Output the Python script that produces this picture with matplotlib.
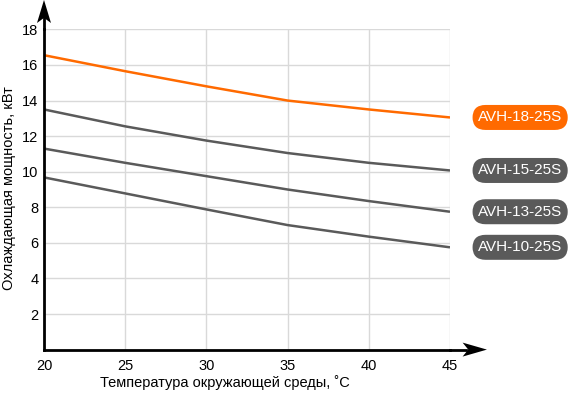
import matplotlib
matplotlib.use("Agg")
import matplotlib.pyplot as plt
from matplotlib.patches import Polygon

plt.rcParams['font.family'] = ['Liberation Sans', 'DejaVu Sans']

# ambient temperature, C
temps = [20, 25, 30, 35, 40, 45]

# cooling capacity, kW
avh_18 = [16.55, 15.65, 14.8, 14.0, 13.5, 13.05]
avh_15 = [13.5, 12.55, 11.75, 11.05, 10.5, 10.07]
avh_13 = [11.3, 10.5, 9.75, 9.0, 8.35, 7.75]
avh_10 = [9.68, 8.78, 7.88, 7.0, 6.35, 5.75]

series = [
    ("AVH-18-25S", avh_18, "#ff6a00"),
    ("AVH-15-25S", avh_15, "#5a5a5a"),
    ("AVH-13-25S", avh_13, "#5a5a5a"),
    ("AVH-10-25S", avh_10, "#5a5a5a"),
]

yticks = [2, 4, 6, 8, 10, 12, 14, 16, 18]
xticks = [20, 25, 30, 35, 40, 45]

fig = plt.figure(figsize=(5.71, 3.94), dpi=100)
W, H = 571, 394
ax_w, ax_h = 450 - 44, 349.6 - 29.4
ax = fig.add_axes([44 / W, 1 - 349.6 / H, ax_w / W, ax_h / H])

for name, vals, col in series:
    ax.plot(temps, vals, color=col, lw=1.8, solid_capstyle='butt', zorder=3)
    ax.annotate(name, xy=(temps[-1], vals[-1]), xytext=(50.5, 0),
                textcoords='offset points', ha='center', va='center',
                fontsize=11, color='white', annotation_clip=False,
                bbox=dict(boxstyle='round,pad=0.36,rounding_size=0.85',
                          fc=col, ec='none'))

ax.set_xlim(20, 45)
ax.set_ylim(0, 18)
ax.set_xticks(xticks)
ax.set_yticks(yticks)
ax.grid(True, color='#d9d9d9', lw=1)
ax.set_axisbelow(True)
ax.tick_params(length=0, labelsize=10.5)
ax.tick_params(axis='y', pad=4)
ax.tick_params(axis='x', pad=7)
for s in ['top', 'right']:
    ax.spines[s].set_visible(False)
for s in ['left', 'bottom']:
    ax.spines[s].set_linewidth(2)
    ax.spines[s].set_zorder(4)

# axis arrows (notched heads), in axes fraction
hx = 7 / ax_h
ax.plot([1, 1.04], [0, 0], color='black', lw=2, transform=ax.transAxes, clip_on=False)
ax.add_patch(Polygon([(1.091, 0), (1.031, hx), (1.045, 0), (1.031, -hx)],
                     closed=True, fc='black', ec='none', transform=ax.transAxes, clip_on=False))
hy = 7 / ax_w
ax.plot([0, 0], [1, 1.035], color='black', lw=2, transform=ax.transAxes, clip_on=False)
ax.add_patch(Polygon([(0, 1.092), (hy, 1.02), (0, 1.036), (-hy, 1.02)],
                     closed=True, fc='black', ec='none', transform=ax.transAxes, clip_on=False))

fig.text(225 / W, 1 - 383 / H, 'Температура окружающей среды, ˚C',
         fontsize=10.5, ha='center', va='center')
fig.text(9 / W, 1 - 188 / H, 'Охлаждающая мощность, кВт',
         fontsize=10.5, ha='center', va='center', rotation=90)

fig.savefig('out.png', dpi=100)
